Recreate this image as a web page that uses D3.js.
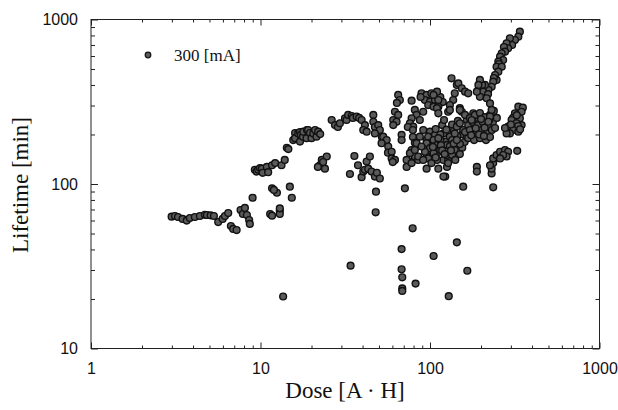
<!DOCTYPE html>
<html>
<head>
<meta charset="utf-8">
<script src="https://cdn.jsdelivr.net/npm/d3@7"></script>
<style>
  body { margin: 0; background: #fff; }
  .tick text { font-family: "Liberation Sans", Arial, sans-serif; font-size: 16px; fill: #111; }
  .tick line { stroke: #222; }
  .domain { display: none; }
</style>
</head>
<body>
<div id="chart"></div>
<script>
/** Dose [A·H] vs lifetime [min], grouped by dose range */
var lowDose = [
  [2.99,63.3],[3.13,63.9],[3.26,63.0],[3.47,61.3],[3.67,59.9],[3.83,62.1],[4.10,63.0],[4.39,63.9],
  [4.70,65.0],[4.83,64.8],[5.08,64.5],[5.31,63.9],[5.63,58.7],[5.98,61.3],[6.17,63.9],[6.45,66.6],
  [6.69,55.5],[6.90,53.3],[7.23,52.5],[7.63,69.5],[7.87,65.7],[8.09,71.5],[8.31,64.8],[8.57,60.4],
  [8.65,57.2],[8.98,82.5],[11.4,65.7],[11.7,64.2],[13.0,68.8],[13.0,65.7],[13.6,20.7],
  [9.26,122],[9.48,119],[9.69,122],[9.93,125],[10.2,124],[10.3,117],[10.9,127],[11.1,118],
  [11.7,130],[12.2,134],[13.3,130],[13.9,140],[14.3,166],[14.6,163],[11.7,94.1],[12.5,88.5],
  [12.0,92.0],[13.0,71.1],[14.9,96.3],[15.3,82.5]
];

var earlyDose = [
  [15.6,185],[16.0,204],[16.0,190],[16.7,203],[17.1,207],[17.1,181],[17.3,199],[17.8,194],
  [17.9,208],[18.7,190],[18.8,213],[19.1,213],[19.6,204],[20.0,190],[20.5,203],[21.0,213],
  [21.4,194],[21.9,208],[22.5,201],
  [22.4,130],[23.0,140],[24.0,124],[24.6,147],[23.4,136],[21.8,127]
];

var midDose = [
  [26.3,245],[27.5,228],[28.6,222],[29.4,234],[31.5,251],[32.2,245],[32.9,263],[34.5,259],
  [35.1,252],[36.9,257],[38.2,252],[39.5,245],[41.3,228],[40.4,213],[42.3,208],
  [46.3,263],[46.3,239],[47.3,222],[49.5,228],[50.6,213],[47.3,203],[52.0,193],[53.0,194],
  [55.5,185],[51.8,177],[56.7,169],[56.5,155],[59.4,157],[59.4,143],[62.1,140],[60.3,136],
  [35.8,148],[37.6,130],[33.7,115],[39.5,110],[40.4,119],[41.3,122],[42.3,137],[43.2,124],
  [44.2,147],[45.2,119],[47.3,111],[48.6,117],[50.6,108],[48.0,89.8],[47.8,67.3],[34.0,31.9]
];

var dose60to120 = [
  [64.9,348],[66.4,324],[63.8,311],[77.9,321],[62.1,275],[64.9,263],[60.7,245],[63.5,239],
  [60.7,228],[68.0,199],[68.0,185],[81.4,282],[83.3,263],[77.9,251],[87.1,245],[76.1,234],
  [79.6,223],[74.0,222],[79.3,213],[79.3,193],[81.4,178],[91.2,275],
  [89.1,356],[95.5,348],[102,356],[110,348],[93.3,324],[100,317],[107,324],[97.6,302],
  [105,295],[115,338],[119,315],[112,295],[88.0,338],
  [77.9,161],[81.4,147],[76.1,137],[72.8,127],[85.2,140],[76.1,154],[72.8,140],[77.9,134],
  [85.2,147],[83.3,177],[87.1,194],[81.4,161],[71.1,94.1]
];

var centerDose = [
  [100,203],[95.5,185],[105,177],[93.3,169],[100,161],[110,154],[95.5,147],[120,203],
  [123,181],[131,194],[128,161],[120,140],[128,140],[126,127],[110,140],[91.2,213],
  [95.5,124],[112,124],[123,111],[120,111],[100,208],[107,199],[97.6,194],[105,185],
  [95.5,177],[110,173],[100,165],[93.3,157],[105,154],[97.6,143],[91.2,140],[102,134],
  [89.1,169],[135,185],[146,173],[155,166],[140,161],[115,185],[126,173],[115,161],
  [126,150],[128,134],
  [115,200],[118,228],[125,214],[135,230],[138,210],[121,245],[108,216],[116,172],
  [131,170],[135,150],[141,140],[150,152],[155,200],[160,180],[150,175],[146,242],
  [112,190],[118,160],[133,160],[145,195],[104,168],[108,145],[122,152],[138,176],
  [134,439],[144,400],[147,409],[154,382],[161,364],[168,356],[140,356],[137,324],
  [131,302],[128,275],[150,289],[154,275],[110,364],[105,348],[112,324],[110,289],
  [112,269],[193,373],[131,282],[150,282],
  [157,213],[172,223],[189,213],[165,194],[180,203],[193,245],[180,269],[165,245],
  [144,223],[150,234],[140,203],[144,185]
];

var highDose = [
  [161,263],[172,252],[184,263],[197,270],[211,255],[226,263],[168,228],[179,238],
  [192,228],[205,238],[220,228],[235,238],[161,207],[172,213],[187,204],[203,213],
  [217,204],[232,213],[168,190],[182,185],[197,190],[214,185],[226,193],[242,219],
  [248,252],[238,278],
  [176,245],[186,218],[200,248],[210,220],[224,245],[195,200],[208,196],[175,198],
  [189,127],[189,119],[231,116],[231,124],[236,134],[236,143],[247,150],[259,157],
  [277,161],[289,157],[283,147],[270,150],[259,143],[327,159],[226,130],
  [339,843],[332,786],[317,750],[296,769],[305,700],[283,717],[289,668],[273,680],
  [277,637],[265,623],[259,594],[270,567],[253,554],[255,536],[247,516],[265,516],
  [253,482],[242,460],[247,429],[238,441],[236,419],[231,390],[221,373],[211,400],
  [203,400],[197,429],[193,400],[206,364],[220,352],[197,339],[189,364],[216,332],
  [226,309],[231,282],[226,257],[221,239],
  [332,295],[353,291],[347,275],[317,269],[339,251],[309,252],[303,245],[324,234],
  [289,223],[347,228],[331,225],[310,213],[332,208],[296,203],[283,203],[277,219],
  [325,262],[300,230],[340,215]
];

// scattered low-lifetime points
var outliers = [
  [79.0,53.8],[144,44.2],[68.0,40.2],[105,36.5],[68.0,30.3],[68.6,27.1],[82.2,24.8],
  [68.6,23.2],[68.6,22.4],[166,29.7],[129,20.8],[157,96.3],[236,95.5]
];

var xMajor = [1, 10, 100, 1000];
var yMajor = [10, 100, 1000];
var legendLabel = '300 [mA]';

var allPoints = lowDose.concat(earlyDose, midDose, dose60to120, centerDose, highDose, outliers);

var margin = {top: 19.5, right: 18.5, bottom: 61.5, left: 91},
    width = 618 - margin.left - margin.right,
    height = 410 - margin.top - margin.bottom;

var svg = d3.select('#chart')
    .append('svg')
    .attr('width', 618)
    .attr('height', 410);

var g = svg.append('g')
    .attr('transform', 'translate(' + margin.left + ',' + margin.top + ')');

var x = d3.scaleLog().domain([1, 1000]).range([0, width]);
var y = d3.scaleLog().domain([10, 1000]).range([height, 0]);

// minor tick values (2..9 in every decade)
function minorTicks(lo, hi) {
    var out = [];
    for (var d = lo; d < hi; d *= 10) {
        for (var k = 2; k <= 9; k++) out.push(d * k);
    }
    return out;
}
var xMinor = minorTicks(1, 1000);
var yMinor = minorTicks(10, 1000);

// bottom axis: labelled major ticks pointing inward
g.append('g')
    .attr('transform', 'translate(0,' + height + ')')
    .call(d3.axisBottom(x).tickValues(xMajor).tickFormat(d3.format('d')).tickSizeInner(-6).tickSizeOuter(0).tickPadding(14));
g.append('g')
    .attr('transform', 'translate(0,' + height + ')')
    .call(d3.axisBottom(x).tickValues(xMinor).tickFormat('').tickSizeInner(-3).tickSizeOuter(0));
// top axis
g.append('g')
    .call(d3.axisTop(x).tickValues(xMajor).tickFormat('').tickSizeInner(-6).tickSizeOuter(0));
g.append('g')
    .call(d3.axisTop(x).tickValues(xMinor).tickFormat('').tickSizeInner(-3).tickSizeOuter(0));

// left axis
g.append('g')
    .call(d3.axisLeft(y).tickValues(yMajor).tickFormat(d3.format('d')).tickSizeInner(-7).tickSizeOuter(0).tickPadding(13));
g.append('g')
    .call(d3.axisLeft(y).tickValues(yMinor).tickFormat('').tickSizeInner(-4).tickSizeOuter(0));
// right axis
g.append('g')
    .attr('transform', 'translate(' + width + ',0)')
    .call(d3.axisRight(y).tickValues(yMajor).tickFormat('').tickSizeInner(-7).tickSizeOuter(0));
g.append('g')
    .attr('transform', 'translate(' + width + ',0)')
    .call(d3.axisRight(y).tickValues(yMinor).tickFormat('').tickSizeInner(-4).tickSizeOuter(0));

// frame
g.append('rect')
    .attr('width', width)
    .attr('height', height)
    .attr('fill', 'none')
    .attr('stroke', '#222')
    .attr('stroke-width', 1);

// points
g.append('g')
    .selectAll('circle')
    .data(allPoints)
    .enter()
    .append('circle')
        .attr('cx', function(d) { return x(d[0]); })
        .attr('cy', function(d) { return y(d[1]); })
        .attr('r', 3.4)
        .attr('fill', '#5a5a5a')
        .attr('stroke', '#111')
        .attr('stroke-width', 1.4);

// legend
svg.append('circle')
    .attr('cx', 148).attr('cy', 55).attr('r', 2.8)
    .attr('fill', '#5a5a5a').attr('stroke', '#111').attr('stroke-width', 1.2);
svg.append('text')
    .attr('x', 174).attr('y', 61)
    .style('font-family', '"Liberation Serif", "Times New Roman", serif')
    .style('font-size', '17px')
    .attr('fill', '#111')
    .text(legendLabel);

// axis titles
svg.append('text')
    .attr('text-anchor', 'middle')
    .attr('x', 345).attr('y', 398)
    .style('font-family', '"Liberation Serif", "Times New Roman", serif')
    .style('font-size', '23px')
    .attr('fill', '#111')
    .text('Dose [A \u00b7 H]');
svg.append('text')
    .attr('text-anchor', 'middle')
    .attr('transform', 'translate(28,185) rotate(-90)')
    .style('font-family', '"Liberation Serif", "Times New Roman", serif')
    .style('font-size', '23px')
    .attr('fill', '#111')
    .text('Lifetime [min]');
</script>
</body>
</html>
